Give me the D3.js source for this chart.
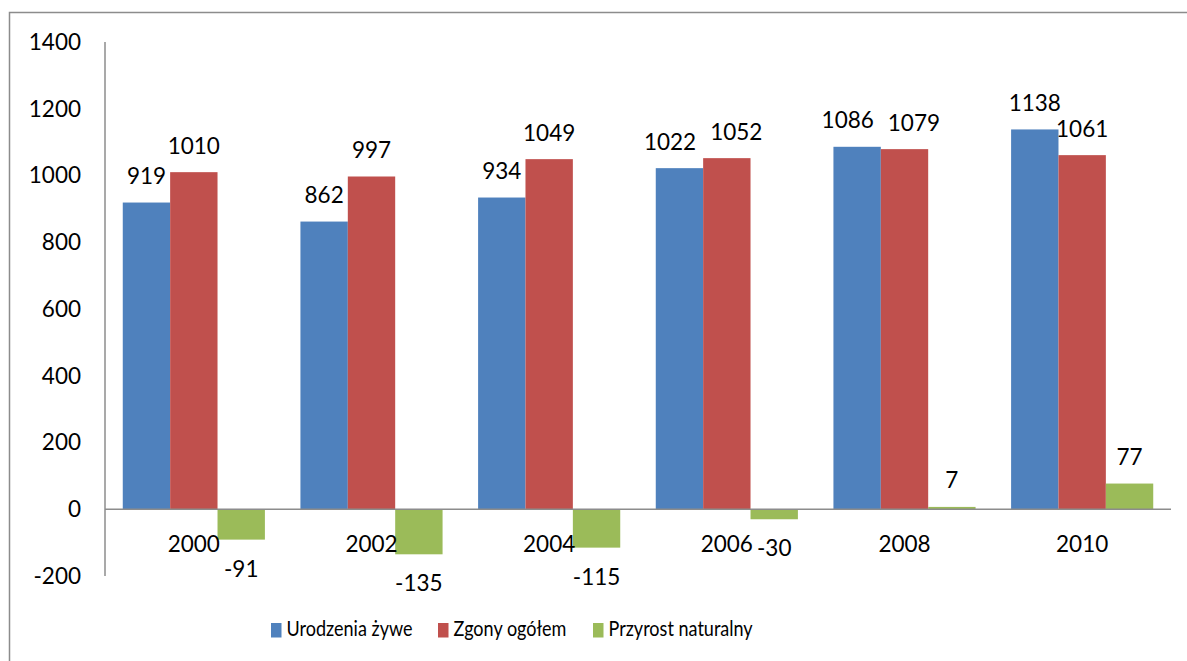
<!DOCTYPE html>
<html>
<head>
<meta charset="utf-8">
<script src="https://cdn.jsdelivr.net/npm/d3@7"></script>
<style>
  body { margin: 0; background: #fff; }
  svg { display: block; }
  text { font-family: Lato, "Open Sans", sans-serif; fill: #000; }
</style>
</head>
<body>
<div id="chart_box"></div>
<script>
// data
var years = ["2000", "2002", "2004", "2006", "2008", "2010"];
var seriesNames = ["Urodzenia żywe", "Zgony ogółem", "Przyrost naturalny"];
var births = [919, 862, 934, 1022, 1086, 1138];
var deaths = [1010, 997, 1049, 1052, 1079, 1061];
var growth = [-91, -135, -115, -30, 7, 77];
var yTicks = [-200, 0, 200, 400, 600, 800, 1000, 1200, 1400];

var colors = ["#4F81BD", "#C0504D", "#9BBB59"];
var fontSize = 22.5;

var W = 1187, H = 661;
var margin = { top: 42, right: 16, bottom: 85, left: 105 };
var plotRight = 1171;

var svg = d3.select("#chart_box").append("svg")
    .attr("width", W)
    .attr("height", H);

// outer frame (runs off the right and bottom edge in the original)
svg.append("rect")
    .attr("x", 9.5).attr("y", 12.5)
    .attr("width", W + 10).attr("height", H + 10)
    .attr("fill", "none")
    .attr("stroke", "#8c8c8c")
    .attr("stroke-width", 1.5);

// Excel style: gap is 75% of a bar, 3 bars per group
var x0 = d3.scaleBand()
    .domain(years)
    .range([margin.left, plotRight]);
var step = x0.step();
var barW = step / 3.75;
var x1 = d3.scaleBand()
    .domain(d3.range(seriesNames.length))
    .range([barW * 0.375, barW * 0.375 + barW * 3]);

var y = d3.scaleLinear()
    .domain([-200, 1400])
    .range([576, 42]);

var series = [births, deaths, growth];

var g = svg.append("g");

// y axis labels
g.selectAll(".ytick")
    .data(yTicks)
    .enter().append("text")
    .attr("class", "ytick")
    .attr("x", 81)
    .attr("y", function (d) { return y(d); })
    .attr("dy", ".35em")
    .style("text-anchor", "end")
    .style("font-size", fontSize + "px")
    .text(function (d) { return d; });

// bars
series.forEach(function (vals, si) {
    g.selectAll(".bar" + si)
        .data(vals)
        .enter().append("rect")
        .attr("class", "bar" + si)
        .attr("x", function (d, i) { return x0(years[i]) + x1(si); })
        .attr("width", x1.bandwidth())
        .attr("y", function (d) { return Math.min(y(d), y(0)); })
        .attr("height", function (d) { return Math.abs(y(d) - y(0)); })
        .attr("fill", colors[si]);
});

// zero line and y axis line
g.append("line")
    .attr("x1", margin.left).attr("x2", plotRight)
    .attr("y1", y(0)).attr("y2", y(0))
    .attr("stroke", "#8c8c8c").attr("stroke-width", 1.5);

g.append("line")
    .attr("x1", margin.left).attr("x2", margin.left)
    .attr("y1", y(1400)).attr("y2", y(-200))
    .attr("stroke", "#8c8c8c").attr("stroke-width", 1.5);

// category labels, below the zero line
g.selectAll(".xlab")
    .data(years)
    .enter().append("text")
    .attr("class", "xlab")
    .attr("x", function (d) { return x0(d) + step / 2; })
    .attr("y", y(0) + 43)
    .style("text-anchor", "middle")
    .style("font-size", fontSize + "px")
    .text(function (d) { return d; });

// value labels
var labels = [];
series.forEach(function (vals, si) {
    vals.forEach(function (v, i) {
        labels.push({
            v: v, si: si, i: i,
            x: x0(years[i]) + x1(si) + x1.bandwidth() / 2,
            y: v >= 0 ? y(v) - 18.5 : y(v) + 37
        });
    });
});

var valText = g.selectAll(".val")
    .data(labels)
    .enter().append("text")
    .attr("class", "val")
    .style("text-anchor", "middle")
    .style("font-size", fontSize + "px")
    .text(function (d) { return d.v; });

// push apart neighbouring labels that overlap
valText.each(function (d) { d.w = this.getComputedTextLength(); });
for (var k = 0; k < labels.length; k++) {
    for (var m = 0; m < labels.length; m++) {
        var a = labels[k], b = labels[m];
        if (a.i !== b.i || b.si !== a.si + 1) continue;
        var need = (a.w + b.w) / 2 + 14;
        var gap = b.x - a.x;
        if (Math.abs(a.y - b.y) < 18 && gap < need) {
            a.x -= (need - gap) / 2;
            b.x += (need - gap) / 2;
        }
    }
}
valText
    .attr("x", function (d) { return d.x; })
    .attr("y", function (d) { return d.y; });

// legend
var legendX = [271, 438, 593];
var legend = svg.selectAll(".legend")
    .data(seriesNames)
    .enter().append("g")
    .attr("class", "legend")
    .attr("transform", function (d, i) { return "translate(" + legendX[i] + ",623)"; });

legend.append("rect")
    .attr("width", 10.5)
    .attr("height", 14.5)
    .attr("fill", function (d, i) { return colors[i]; });

legend.append("text")
    .attr("transform", "translate(15.5,13) scale(0.82,1)")
    .style("font-size", "22px")
    .text(function (d) { return d; });
</script>
</body>
</html>
